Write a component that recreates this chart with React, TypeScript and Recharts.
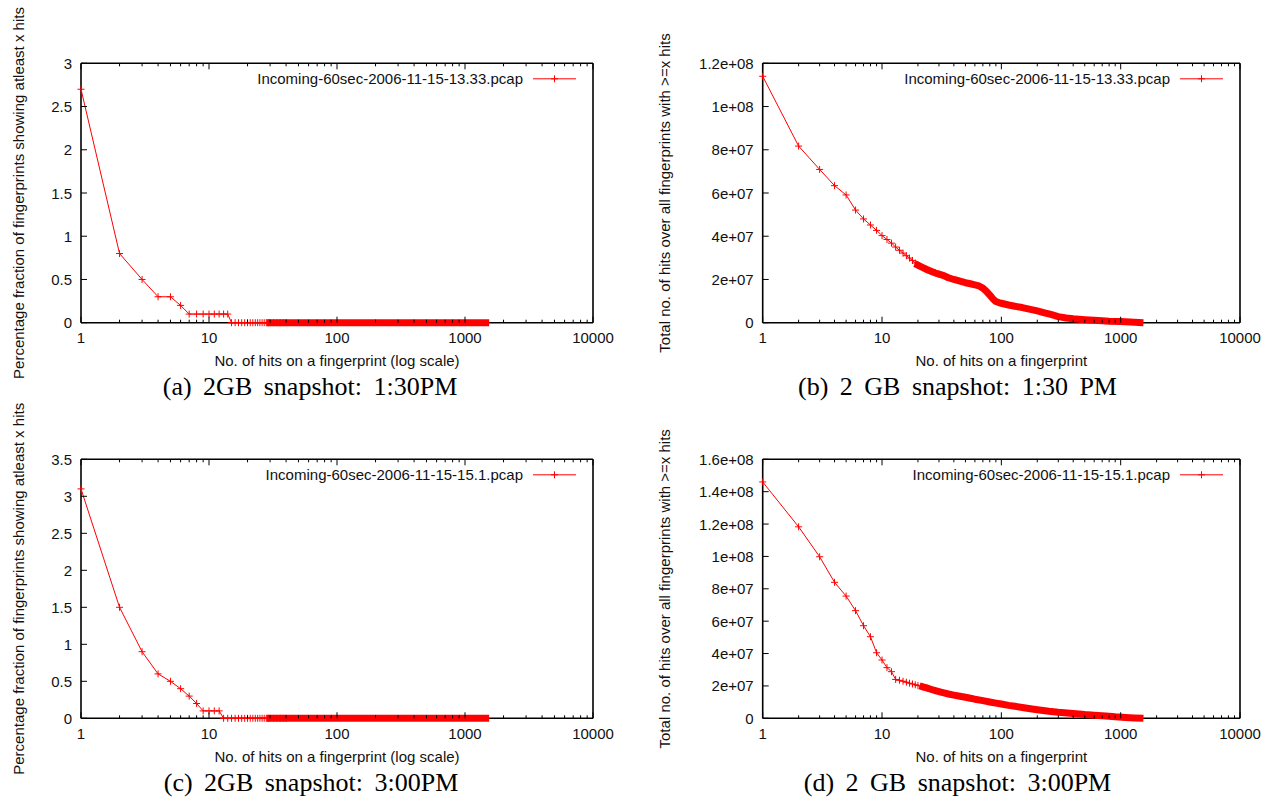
import React from 'react';
import { LineChart, Line, XAxis, YAxis } from 'recharts';

// ---------- shared axis data ----------
const xMajorTicks = [1, 10, 100, 1000, 10000];
const xMajorLabels = ['1', '10', '100', '1000', '10000'];
const xMinorTicks = [
  2, 3, 4, 5, 6, 7, 8, 9,
  20, 30, 40, 50, 60, 70, 80, 90,
  200, 300, 400, 500, 600, 700, 800, 900,
  2000, 3000, 4000, 5000, 6000, 7000, 8000, 9000,
];

// ---------- (a) 2GB snapshot 1:30PM ----------
const hitsA = [1, 2, 3, 4, 5, 6, 7, 8, 9, 10, 11, 12, 13, 14, 15, 16, 17, 18, 19, 20, 21, 22, 23, 24, 25, 26, 27, 28, 29, 30, 32, 34, 36, 38, 40, 1450];
const fracA = [2.7, 0.8, 0.5, 0.3, 0.3, 0.2, 0.1, 0.1, 0.1, 0.1, 0.1, 0.1, 0.1, 0.1, 0, 0, 0, 0, 0, 0, 0, 0, 0, 0, 0, 0, 0, 0, 0, 0, 0, 0, 0, 0, 0, 0];
const yTicksA = [0, 0.5, 1, 1.5, 2, 2.5, 3];
const yLabelsA = ['0', '0.5', '1', '1.5', '2', '2.5', '3'];

// ---------- (b) 2 GB snapshot 1:30 PM ----------
const hitsB = [1, 2, 3, 4, 5, 6, 7, 8, 9, 10, 11, 12, 13, 14, 15, 16, 17, 18, 19, 20, 22, 24, 26, 28, 30, 33, 36, 40, 45, 50, 55, 60, 65, 70, 75, 80, 85, 90, 95, 100, 115, 130, 150, 175, 200, 230, 260, 300, 350, 400, 500, 600, 700, 800, 1000, 1200, 1450];
const totalB = [114e6, 81.7e6, 70.9e6, 63.4e6, 59.1e6, 52.1e6, 48.0e6, 45.2e6, 42.7e6, 40.3e6, 38.5e6, 36.8e6, 35.0e6, 33.5e6, 32.2e6, 31.0e6, 29.9e6, 28.8e6, 27.6e6, 26.6e6, 25.5e6, 24.5e6, 23.7e6, 23.0e6, 22.5e6, 21.8e6, 20.8e6, 20.0e6, 19.2e6, 18.5e6, 18.0e6, 17.5e6, 17.0e6, 16.0e6, 14.5e6, 12.8e6, 11.0e6, 9.8e6, 9.3e6, 9.0e6, 8.2e6, 7.6e6, 7.0e6, 6.2e6, 5.5e6, 4.6e6, 3.8e6, 2.8e6, 2.2e6, 1.8e6, 1.4e6, 1.1e6, 0.9e6, 0.7e6, 0.5e6, 0.3e6, 0.1e6];
const yTicksBig12 = [0, 2e7, 4e7, 6e7, 8e7, 1e8, 1.2e8];
const yLabelsBig12 = ['0', '2e+07', '4e+07', '6e+07', '8e+07', '1e+08', '1.2e+08'];

// ---------- (c) 2GB snapshot 3:00PM ----------
const hitsC = [1, 2, 3, 4, 5, 6, 7, 8, 9, 10, 11, 12, 13, 14, 15, 16, 17, 18, 19, 20, 21, 22, 23, 24, 25, 26, 27, 28, 29, 30, 32, 34, 36, 38, 40, 1450];
const fracC = [3.1, 1.5, 0.9, 0.6, 0.5, 0.4, 0.3, 0.2, 0.1, 0.1, 0.1, 0.1, 0, 0, 0, 0, 0, 0, 0, 0, 0, 0, 0, 0, 0, 0, 0, 0, 0, 0, 0, 0, 0, 0, 0, 0];
const yTicksC = [0, 0.5, 1, 1.5, 2, 2.5, 3, 3.5];
const yLabelsC = ['0', '0.5', '1', '1.5', '2', '2.5', '3', '3.5'];

// ---------- (d) 2 GB snapshot 3:00PM ----------
const hitsD = [1, 2, 3, 4, 5, 6, 7, 8, 9, 10, 11, 12, 13, 14, 15, 16, 17, 18, 19, 20, 22, 24, 26, 28, 30, 33, 36, 40, 45, 50, 55, 60, 70, 80, 90, 100, 115, 130, 150, 175, 200, 250, 300, 400, 500, 600, 750, 900, 1100, 1300, 1450];
const totalD = [146e6, 118.3e6, 99.8e6, 84.0e6, 75.5e6, 66.5e6, 57.2e6, 50.4e6, 40.5e6, 36.0e6, 31.3e6, 28.8e6, 24.0e6, 23.5e6, 22.9e6, 22.3e6, 21.7e6, 21.2e6, 20.7e6, 20.2e6, 19.4e6, 18.6e6, 17.8e6, 17.1e6, 16.5e6, 15.7e6, 15.0e6, 14.3e6, 13.6e6, 13.0e6, 12.4e6, 11.8e6, 10.9e6, 10.1e6, 9.4e6, 8.8e6, 8.0e6, 7.4e6, 6.7e6, 5.9e6, 5.3e6, 4.3e6, 3.7e6, 3.0e6, 2.3e6, 1.9e6, 1.4e6, 0.9e6, 0.5e6, 0.2e6, 0.05e6];
const yTicksBig16 = [0, 2e7, 4e7, 6e7, 8e7, 1e8, 1.2e8, 1.4e8, 1.6e8];
const yLabelsBig16 = ['0', '2e+07', '4e+07', '6e+07', '8e+07', '1e+08', '1.2e+08', '1.4e+08', '1.6e+08'];

const SANS = '"Liberation Sans", Arial, Helvetica, sans-serif';
const SERIF = '"Liberation Serif", "Times New Roman", Times, serif';
const RED = '#ff0000';
const INK = '#111';
const FS = 15;

const xTicksAll = [...xMajorTicks, ...xMinorTicks].sort((a, b) => a - b);

function plusPath(cx: number, cy: number, r: number) {
  return `M${cx - r},${cy}H${cx + r}M${cx},${cy - r}V${cy + r}`;
}

type PanelProps = {
  box: { x: number; y: number; w: number; h: number };
  plot: { l: number; t: number; r: number; b: number };
  xs: number[];
  ys: number[];
  yTicks: number[];
  yLabels: string[];
  bandFrom: number;
  dotUntil: number;
};

const AX = 1; // axis band size (recharts skips axes of size 0)

function Panel({ box, plot, xs, ys, yTicks, yLabels, bandFrom, dotUntil }: PanelProps) {
  const data = xs.map((x, i) => ({ x, y: ys[i], band: x >= bandFrom ? ys[i] : null }));
  const margin = {
    left: plot.l - box.x - AX,
    top: plot.t - box.y - AX,
    right: box.x + box.w - plot.r - AX,
    bottom: box.y + box.h - plot.b - AX,
  };
  const yMax = yTicks[yTicks.length - 1];
  const axisLine = { stroke: '#000', strokeWidth: 1.6 };

  const bottomTick = (p: any) => {
    const v = p.payload.value;
    const mi = xMajorTicks.indexOf(v);
    const major = mi >= 0;
    return (
      <g>
        <line x1={p.x} x2={p.x} y1={p.y} y2={p.y - (major ? 6 : 3)} stroke="#000" strokeWidth={1} />
        {major && (
          <text x={p.x} y={p.y + 20.5} textAnchor="middle" fontSize={FS} fontFamily={SANS} fill={INK}>
            {xMajorLabels[mi]}
          </text>
        )}
      </g>
    );
  };
  const topTick = (p: any) => {
    const major = xMajorTicks.indexOf(p.payload.value) >= 0;
    return <line x1={p.x} x2={p.x} y1={p.y} y2={p.y + (major ? 6 : 3)} stroke="#000" strokeWidth={1} />;
  };
  const leftTick = (p: any) => {
    const i = yTicks.indexOf(p.payload.value);
    return (
      <g>
        <line x1={p.x} x2={p.x + 6} y1={p.y} y2={p.y} stroke="#000" strokeWidth={1} />
        <text x={p.x - 9} y={p.y + 5.5} textAnchor="end" fontSize={FS} fontFamily={SANS} fill={INK}>
          {yLabels[i]}
        </text>
      </g>
    );
  };
  const rightTick = (p: any) => (
    <line x1={p.x} x2={p.x - 6} y1={p.y} y2={p.y} stroke="#000" strokeWidth={1} />
  );
  const dot = (p: any) => {
    const key = `d${p.index}`;
    if (p.payload.x > dotUntil || p.cx == null || p.cy == null) return <g key={key} />;
    return <path key={key} d={plusPath(p.cx, p.cy, 3.5)} stroke={RED} strokeWidth={1} fill="none" />;
  };

  return (
    <div style={{ position: 'absolute', left: box.x, top: box.y }}>
      <LineChart width={box.w} height={box.h} data={data} margin={margin}>
        <XAxis xAxisId="b" dataKey="x" type="number" scale="log" domain={[1, 10000]} ticks={xTicksAll}
          interval={0} tickSize={0} tickMargin={0} height={AX} axisLine={axisLine} tickLine={false}
          tick={bottomTick} zIndex={100} />
        <XAxis xAxisId="t" orientation="top" dataKey="x" type="number" scale="log" domain={[1, 10000]} ticks={xTicksAll}
          interval={0} tickSize={0} tickMargin={0} height={AX} axisLine={axisLine} tickLine={false}
          tick={topTick} zIndex={100} />
        <YAxis yAxisId="l" type="number" domain={[0, yMax]} ticks={yTicks} interval={0} tickSize={0} tickMargin={0}
          width={AX} axisLine={axisLine} tickLine={false} tick={leftTick} zIndex={100} />
        <YAxis yAxisId="r" orientation="right" type="number" domain={[0, yMax]} ticks={yTicks} interval={0} tickSize={0}
          tickMargin={0} width={AX} axisLine={axisLine} tickLine={false} tick={rightTick} zIndex={100} />
        <Line xAxisId="b" yAxisId="l" type="linear" dataKey="band" stroke={RED} strokeWidth={7} dot={false}
          activeDot={false} isAnimationActive={false} strokeLinecap="square" strokeLinejoin="round" connectNulls={false}
          zIndex={900} />
        <Line xAxisId="b" yAxisId="l" type="linear" dataKey="y" stroke={RED} strokeWidth={1} dot={dot}
          activeDot={false} isAnimationActive={false} zIndex={900} />
      </LineChart>
    </div>
  );
}

type TextSpec = {
  plot: { l: number; t: number; r: number; b: number };
  yLabel: string;
  yLabelX: number;
  xLabel: string;
  legend: string;
  caption: string;
  captionX: number;
  captionY: number;
};

function PanelText({ plot, yLabel, yLabelX, xLabel, legend, caption, captionX, captionY }: TextSpec) {
  const cy = (plot.t + plot.b) / 2;
  const cx = (plot.l + plot.r) / 2;
  const ly = plot.t + 15.5;
  return (
    <g>
      <text x={yLabelX} y={cy} transform={`rotate(-90 ${yLabelX} ${cy})`} textAnchor="middle" fontSize={FS}
        fontFamily={SANS} fill={INK}>{yLabel}</text>
      <text x={cx} y={plot.b + 43.5} textAnchor="middle" fontSize={FS} fontFamily={SANS} fill={INK}>{xLabel}</text>
      <text x={plot.r - 70} y={ly + 5.5} textAnchor="end" fontSize={FS} fontFamily={SANS} fill={INK}>{legend}</text>
      <line x1={plot.r - 60} x2={plot.r - 17} y1={ly} y2={ly} stroke={RED} strokeWidth={1} />
      <path d={plusPath(plot.r - 38.5, ly, 3.5)} stroke={RED} strokeWidth={1} fill="none" />
      <text x={captionX} y={captionY} textAnchor="middle" fontSize={26} fontFamily={SERIF} fill="#000"
        style={{ wordSpacing: '5px' }}>{caption}</text>
    </g>
  );
}

const plotA = { l: 81, t: 63.3, r: 593, b: 322.7 };
const plotB = { l: 762.7, t: 63.3, r: 1240, b: 322.7 };
const plotC = { l: 81, t: 459.3, r: 593, b: 718.3 };
const plotD = { l: 762.7, t: 459.3, r: 1240, b: 718.3 };

export default function App() {
  return (
    <div style={{ position: 'absolute', left: 0, top: 0, width: 1270, height: 800, background: '#fff', overflow: 'hidden' }}>
      <Panel box={{ x: 0, y: 0, w: 635, h: 396 }} plot={plotA} xs={hitsA} ys={fracA} yTicks={yTicksA} yLabels={yLabelsA}
        bandFrom={30} dotUntil={40} />
      <Panel box={{ x: 635, y: 0, w: 635, h: 396 }} plot={plotB} xs={hitsB} ys={totalB} yTicks={yTicksBig12}
        yLabels={yLabelsBig12} bandFrom={20} dotUntil={30} />
      <Panel box={{ x: 0, y: 396, w: 635, h: 396 }} plot={plotC} xs={hitsC} ys={fracC} yTicks={yTicksC} yLabels={yLabelsC}
        bandFrom={30} dotUntil={40} />
      <Panel box={{ x: 635, y: 396, w: 635, h: 396 }} plot={plotD} xs={hitsD} ys={totalD} yTicks={yTicksBig16}
        yLabels={yLabelsBig16} bandFrom={22} dotUntil={30} />
      <svg width={1270} height={800} style={{ position: 'absolute', left: 0, top: 0, pointerEvents: 'none' }}>
        <PanelText plot={plotA} yLabel="Percentage fraction of fingerprints showing atleast x hits" yLabelX={24}
          xLabel="No. of hits on a fingerprint (log scale)" legend="Incoming-60sec-2006-11-15-13.33.pcap"
          caption="(a) 2GB snapshot: 1:30PM" captionX={310} captionY={395} />
        <PanelText plot={plotB} yLabel="Total no. of hits over all fingerprints with >=x hits" yLabelX={670}
          xLabel="No. of hits on a fingerprint" legend="Incoming-60sec-2006-11-15-13.33.pcap"
          caption="(b) 2 GB snapshot: 1:30 PM" captionX={957.5} captionY={395} />
        <PanelText plot={plotC} yLabel="Percentage fraction of fingerprints showing atleast x hits" yLabelX={24}
          xLabel="No. of hits on a fingerprint (log scale)" legend="Incoming-60sec-2006-11-15-15.1.pcap"
          caption="(c) 2GB snapshot: 3:00PM" captionX={311} captionY={791} />
        <PanelText plot={plotD} yLabel="Total no. of hits over all fingerprints with >=x hits" yLabelX={670}
          xLabel="No. of hits on a fingerprint" legend="Incoming-60sec-2006-11-15-15.1.pcap"
          caption="(d) 2 GB snapshot: 3:00PM" captionX={957.5} captionY={791} />
      </svg>
    </div>
  );
}
